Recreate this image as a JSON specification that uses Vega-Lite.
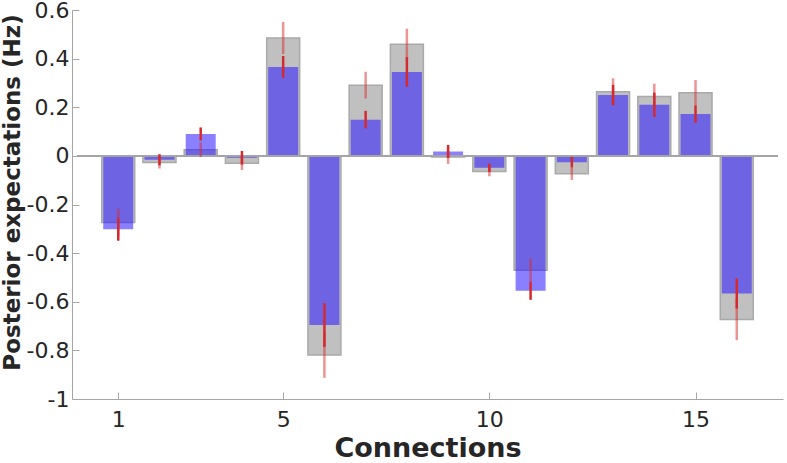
{
  "$schema": "https://vega.github.io/schema/vega-lite/v6.json",
  "width": 711,
  "height": 389,
  "autosize": "none",
  "padding": {"left": 72, "top": 10, "right": 4, "bottom": 64},
  "background": "white",
  "config": {
    "view": {"stroke": null},
    "font": "DejaVu Sans",
    "axis": {
      "grid": false,
      "domainColor": "#a6a6a6",
      "domainWidth": 1,
      "tickColor": "#a6a6a6",
      "tickWidth": 1,
      "labelFont": "DejaVu Sans",
      "labelColor": "#262626",
      "labelFontSize": 22,
      "titleFont": "DejaVu Sans",
      "titleFontWeight": "bold",
      "titleColor": "#262626"
    }
  },
  "data": {
    "values": [
      {"conn": 1, "gray": -0.274, "blue": -0.302, "gray_lo": -0.331, "gray_hi": -0.217, "blue_lo": -0.349, "blue_hi": -0.255},
      {"conn": 2, "gray": -0.027, "blue": -0.016, "gray_lo": -0.052, "gray_hi": -0.002, "blue_lo": -0.039, "blue_hi": 0.007},
      {"conn": 3, "gray": 0.025, "blue": 0.09, "gray_lo": -0.005, "gray_hi": 0.055, "blue_lo": 0.063, "blue_hi": 0.117},
      {"conn": 4, "gray": -0.03, "blue": -0.008, "gray_lo": -0.058, "gray_hi": -0.002, "blue_lo": -0.036, "blue_hi": 0.02},
      {"conn": 5, "gray": 0.485, "blue": 0.366, "gray_lo": 0.419, "gray_hi": 0.551, "blue_lo": 0.321, "blue_hi": 0.411},
      {"conn": 6, "gray": -0.819, "blue": -0.696, "gray_lo": -0.913, "gray_hi": -0.725, "blue_lo": -0.786, "blue_hi": -0.606},
      {"conn": 7, "gray": 0.291, "blue": 0.149, "gray_lo": 0.236, "gray_hi": 0.346, "blue_lo": 0.113, "blue_hi": 0.185},
      {"conn": 8, "gray": 0.459, "blue": 0.345, "gray_lo": 0.395, "gray_hi": 0.523, "blue_lo": 0.284, "blue_hi": 0.406},
      {"conn": 9, "gray": -0.005, "blue": 0.018, "gray_lo": -0.033, "gray_hi": 0.023, "blue_lo": -0.009, "blue_hi": 0.045},
      {"conn": 10, "gray": -0.064, "blue": -0.049, "gray_lo": -0.084, "gray_hi": -0.044, "blue_lo": -0.066, "blue_hi": -0.032},
      {"conn": 11, "gray": -0.47, "blue": -0.555, "gray_lo": -0.518, "gray_hi": -0.422, "blue_lo": -0.592, "blue_hi": -0.518},
      {"conn": 12, "gray": -0.074, "blue": -0.026, "gray_lo": -0.099, "gray_hi": -0.049, "blue_lo": -0.048, "blue_hi": -0.004},
      {"conn": 13, "gray": 0.264, "blue": 0.25, "gray_lo": 0.209, "gray_hi": 0.319, "blue_lo": 0.208, "blue_hi": 0.292},
      {"conn": 14, "gray": 0.244, "blue": 0.21, "gray_lo": 0.191, "gray_hi": 0.297, "blue_lo": 0.16, "blue_hi": 0.26},
      {"conn": 15, "gray": 0.26, "blue": 0.172, "gray_lo": 0.208, "gray_hi": 0.312, "blue_lo": 0.136, "blue_hi": 0.208},
      {"conn": 16, "gray": -0.673, "blue": -0.566, "gray_lo": -0.758, "gray_hi": -0.588, "blue_lo": -0.628, "blue_hi": -0.504}
    ]
  },
  "encoding": {
    "x": {
      "field": "conn",
      "type": "quantitative",
      "scale": {"domain": [0, 17], "nice": false, "zero": false},
      "axis": {
        "title": "Connections",
        "titleFontSize": 27,
        "titlePadding": 5,
        "values": [1, 5, 10, 15],
        "tickSize": -7,
        "labelPadding": 17
      }
    }
  },
  "layer": [
    {
      "mark": {"type": "bar", "size": 33, "color": "#c0c0c0", "stroke": "#a9a9a9", "strokeWidth": 1.5},
      "encoding": {
        "y": {
          "field": "gray",
          "type": "quantitative",
          "scale": {"domain": [-1, 0.6], "nice": false},
          "axis": {
            "title": "Posterior expectations (Hz)",
            "titleFontSize": 23,
            "titleX": -48,
            "titleY": 182,
            "titleBaseline": "bottom",
            "titleAnchor": "middle",
            "values": [-1, -0.8, -0.6, -0.4, -0.2, 0, 0.2, 0.4, 0.6],
            "labelExpr": "'' + datum.value",
            "tickSize": -7,
            "labelPadding": 10
          }
        },
        "y2": {"datum": 0}
      }
    },
    {
      "mark": {"type": "bar", "size": 30, "color": "#2a18ff", "opacity": 0.55},
      "encoding": {
        "y": {"field": "blue", "type": "quantitative"},
        "y2": {"datum": 0}
      }
    },
    {
      "mark": {"type": "rule", "color": "#a6a6a6", "strokeWidth": 1},
      "encoding": {"y": {"datum": 0}, "x": {"datum": 0}, "x2": {"datum": 17}}
    },
    {
      "mark": {"type": "rule", "color": "#dc2a2a", "opacity": 0.5, "strokeWidth": 2.5},
      "encoding": {
        "y": {"field": "gray_lo", "type": "quantitative"},
        "y2": {"field": "gray_hi"}
      }
    },
    {
      "mark": {"type": "rule", "color": "#d42a2f", "strokeWidth": 2.5},
      "encoding": {
        "y": {"field": "blue_lo", "type": "quantitative"},
        "y2": {"field": "blue_hi"}
      }
    }
  ]
}
